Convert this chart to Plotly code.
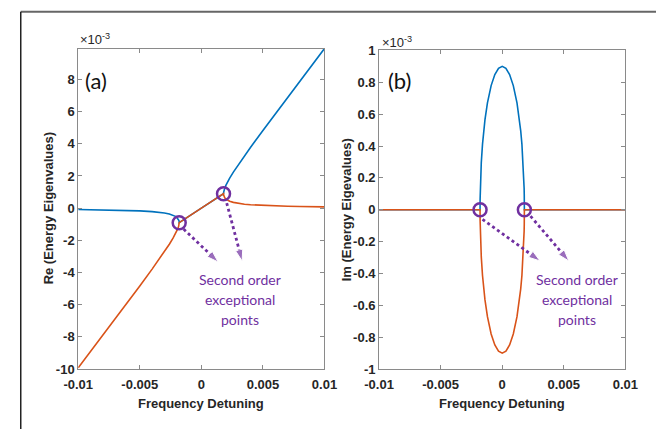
import plotly.graph_objects as go

# ---------------- data ----------------
# Frequency detuning grid (real part panel)
detuning_re = [-0.01, -0.009, -0.008, -0.007, -0.006, -0.005, -0.004, -0.0035, -0.003,
               -0.0026, -0.0023, -0.0021, -0.002, -0.0019, -0.00185, -0.00182, -0.00181,
               -0.001805, -0.0018, 0.0,
               0.0018, 0.001805, 0.00181, 0.00182, 0.00185, 0.0019, 0.002, 0.0021, 0.0023,
               0.0026, 0.003, 0.0035, 0.004, 0.005, 0.006, 0.007, 0.008, 0.009, 0.01]
# Re of eigenvalues, in units of 1e-3
re_blue = [-0.0817, -0.0909, -0.1026, -0.1177, -0.1382, -0.1676, -0.2139, -0.2492, -0.3,
           -0.3619, -0.4341, -0.5092, -0.5641, -0.6459, -0.7114, -0.7755, -0.81,
           -0.8354, -0.9, 0.0,
           0.9, 0.9696, 1.0, 1.0445, 1.1386, 1.2541, 1.4359, 1.5908, 1.8659,
           2.2381, 2.7, 3.2508, 3.7861, 4.8324, 5.8618, 6.8823, 7.8974, 8.9091, 9.9183]
re_orange = [-9.9183, -8.9091, -7.8974, -6.8823, -5.8618, -4.8324, -3.7861, -3.2508, -2.7,
             -2.2381, -1.8659, -1.5908, -1.4359, -1.2541, -1.1386, -1.0445, -1.0,
             -0.9696, -0.9, 0.0,
             0.9, 0.8354, 0.81, 0.7755, 0.7114, 0.6459, 0.5641, 0.5092, 0.4341,
             0.3619, 0.3, 0.2492, 0.2139, 0.1676, 0.1382, 0.1177, 0.1026, 0.0909, 0.0817]

# Frequency detuning grid (imaginary part panel)
detuning_im = [-0.01, -0.0018, -0.001795, -0.00179, -0.00178, -0.00175, -0.0017, -0.0016,
               -0.0015, -0.0014, -0.0012, -0.0009, -0.0006, -0.0003, 0.0, 0.0003, 0.0006,
               0.0009, 0.0012, 0.0014, 0.0015, 0.0016, 0.0017, 0.00175, 0.00178, 0.00179,
               0.001795, 0.0018, 0.01]
im_blue = [0, 0, 0.0670, 0.0947, 0.1338, 0.2107, 0.2958, 0.4123, 0.4975, 0.5657, 0.6708,
           0.7794, 0.8485, 0.8874, 0.9, 0.8874, 0.8485, 0.7794, 0.6708, 0.5657, 0.4975,
           0.4123, 0.2958, 0.2107, 0.1338, 0.0947, 0.0670, 0, 0]
im_orange = [-v for v in im_blue]

# Exceptional points
ep_re_x = [-0.0018, 0.0018]
ep_re_y = [-0.9, 0.9]
ep_im_x = [-0.0018, 0.0018]
ep_im_y = [0.0, 0.0]

# Dotted pointer arrows (start, end) for each panel
arrows_a = [([-0.00144, 0.00136], [-1.30, -3.34]), ([0.00206, 0.00331], [0.32, -3.28])]
arrows_b = [([-0.00160, 0.00307], [-0.06, -0.321]), ([0.00230, 0.00541], [-0.04, -0.321])]

x_ticks = [-0.01, -0.005, 0, 0.005, 0.01]
x_tick_text = ['-0.01', '-0.005', '0', '0.005', '0.01']
re_ticks = [-10, -8, -6, -4, -2, 0, 2, 4, 6, 8]
re_tick_text = ['-10', '-8', '-6', '-4', '-2', '0', '2', '4', '6', '8']
im_ticks = [-1, -0.8, -0.6, -0.4, -0.2, 0, 0.2, 0.4, 0.6, 0.8, 1]
im_tick_text = ['-1', '-0.8', '-0.6', '-0.4', '-0.2', '0', '0.2', '0.4', '0.6', '0.8', '1']
annot_lines = ['Second order', 'exceptional', 'points']

# ---------------- style ----------------
BLUE = '#0072BD'
ORANGE = '#D95319'
PURPLE = '#7030A0'
W, H = 669, 437

fig = go.Figure()

# panel (a)
fig.add_trace(go.Scatter(x=detuning_re, y=re_blue, mode='lines', line=dict(color=BLUE, width=1.6),
                         xaxis='x', yaxis='y', showlegend=False, hoverinfo='skip'))
fig.add_trace(go.Scatter(x=detuning_re, y=re_orange, mode='lines', line=dict(color=ORANGE, width=1.6),
                         xaxis='x', yaxis='y', showlegend=False, hoverinfo='skip'))
# panel (b)
fig.add_trace(go.Scatter(x=detuning_im, y=im_blue, mode='lines', line=dict(color=BLUE, width=1.6),
                         xaxis='x2', yaxis='y2', showlegend=False, hoverinfo='skip'))
fig.add_trace(go.Scatter(x=detuning_im, y=im_orange, mode='lines', line=dict(color=ORANGE, width=1.6),
                         xaxis='x2', yaxis='y2', showlegend=False, hoverinfo='skip'))

# arrows
for arrows, xa, ya in [(arrows_a, 'x', 'y'), (arrows_b, 'x2', 'y2')]:
    for ax_, ay_ in arrows:
        fig.add_trace(go.Scatter(x=ax_, y=ay_, mode='lines+markers',
                                 line=dict(color=PURPLE, width=2.8, dash='dot'),
                                 marker=dict(symbol='arrow', size=[0, 12], color=PURPLE,
                                             angleref='previous'),
                                 xaxis=xa, yaxis=ya, showlegend=False, hoverinfo='skip'))

# exceptional point circles
fig.add_trace(go.Scatter(x=ep_re_x, y=ep_re_y, mode='markers',
                         marker=dict(symbol='circle-open', size=13, color=PURPLE, line=dict(width=2.5)),
                         xaxis='x', yaxis='y', showlegend=False, hoverinfo='skip'))
fig.add_trace(go.Scatter(x=ep_im_x, y=ep_im_y, mode='markers',
                         marker=dict(symbol='circle-open', size=13, color=PURPLE, line=dict(width=2.5)),
                         xaxis='x2', yaxis='y2', showlegend=False, hoverinfo='skip'))

tickfont = dict(family='Liberation Sans, Arial, sans-serif', size=13, color='#262626', weight='bold')
axis_common = dict(showline=True, linecolor='#8a8a8a', linewidth=1, mirror='ticks', ticks='inside',
                   ticklen=4, tickcolor='#8a8a8a', showgrid=False, zeroline=False, tickfont=tickfont)

y_top = 1 - 43 / H
y_bot = 1 - 375 / H
fig.update_layout(
    width=W, height=H, margin=dict(l=0, r=0, t=0, b=0),
    paper_bgcolor='white', plot_bgcolor='white',
    xaxis=dict(domain=[66 / W, 323 / W], range=[-0.01, 0.01], tickvals=x_ticks, ticktext=x_tick_text,
               anchor='y', ticklabelstandoff=3, **axis_common),
    yaxis=dict(domain=[y_bot, y_top], range=[-10, 9.92], tickvals=re_ticks, ticktext=re_tick_text,
               anchor='x', **axis_common),
    xaxis2=dict(domain=[380 / W, 637 / W], range=[-0.01, 0.01], tickvals=x_ticks, ticktext=x_tick_text,
                anchor='y2', ticklabelstandoff=3, **axis_common),
    yaxis2=dict(domain=[y_bot, 1 - 45 / H], range=[-1, 1], tickvals=im_ticks, ticktext=im_tick_text,
                anchor='x2', **axis_common),
)

title_font = dict(family='Liberation Sans, Arial, sans-serif', size=13, color='#262626', weight='bold')
calib = 'Lato, Open Sans, sans-serif'
ann = []
ann.append(dict(text='Frequency Detuning', x=194.5 / W, y=1 - 411 / H, xref='paper', yref='paper',
                showarrow=False, font=title_font, xanchor='center', yanchor='middle'))
ann.append(dict(text='Frequency Detuning', x=508.5 / W, y=1 - 411 / H, xref='paper', yref='paper',
                showarrow=False, font=title_font, xanchor='center', yanchor='middle'))
ann.append(dict(text='Re (Energy Eigenvalues)', x=35 / W, y=1 - 209 / H, xref='paper', yref='paper',
                showarrow=False, font=title_font, textangle=-90, xanchor='center', yanchor='middle'))
ann.append(dict(text='Im (Energy Eigevalues)', x=346 / W, y=1 - 210 / H, xref='paper', yref='paper',
                showarrow=False, font=title_font, textangle=-90, xanchor='center', yanchor='middle'))
for xp, yp in [(66, 33), (381, 36)]:
    ann.append(dict(text='\u00d710<sup>-3</sup>', x=xp / W, y=1 - yp / H, xref='paper', yref='paper',
                    showarrow=False, xanchor='left', yanchor='middle',
                    font=dict(family='Liberation Sans, Arial, sans-serif', size=13, color='#262626')))
for lab, xp in [('(a)', 85), ('(b)', 401)]:
    ann.append(dict(text=lab, x=xp / W, y=1 - 76 / H, xref='paper', yref='paper', showarrow=False,
                    xanchor='center', yanchor='middle', font=dict(family=calib, size=22, color='#111111')))
for xp in [235, 587]:
    for line_text, yp in zip(annot_lines, [282, 303, 324]):
        ann.append(dict(text=line_text, x=xp / W, y=1 - yp / H,
                        xref='paper', yref='paper', showarrow=False, xanchor='center', yanchor='middle',
                        font=dict(family=calib, size=14, color=PURPLE)))
fig.update_layout(annotations=ann)

# outer frame lines (top and left edges)
fig.update_layout(shapes=[
    dict(type='line', xref='paper', yref='paper', x0=6 / W, x1=1, y0=1 - 5 / H, y1=1 - 5 / H,
         line=dict(color='#666666', width=2)),
    dict(type='line', xref='paper', yref='paper', x0=6 / W, x1=6 / W, y0=0, y1=1 - 5 / H,
         line=dict(color='#222222', width=1.5)),
])

fig.write_html('out.html', config={'displayModeBar': False},
               post_script="document.body.style.margin='0';")
